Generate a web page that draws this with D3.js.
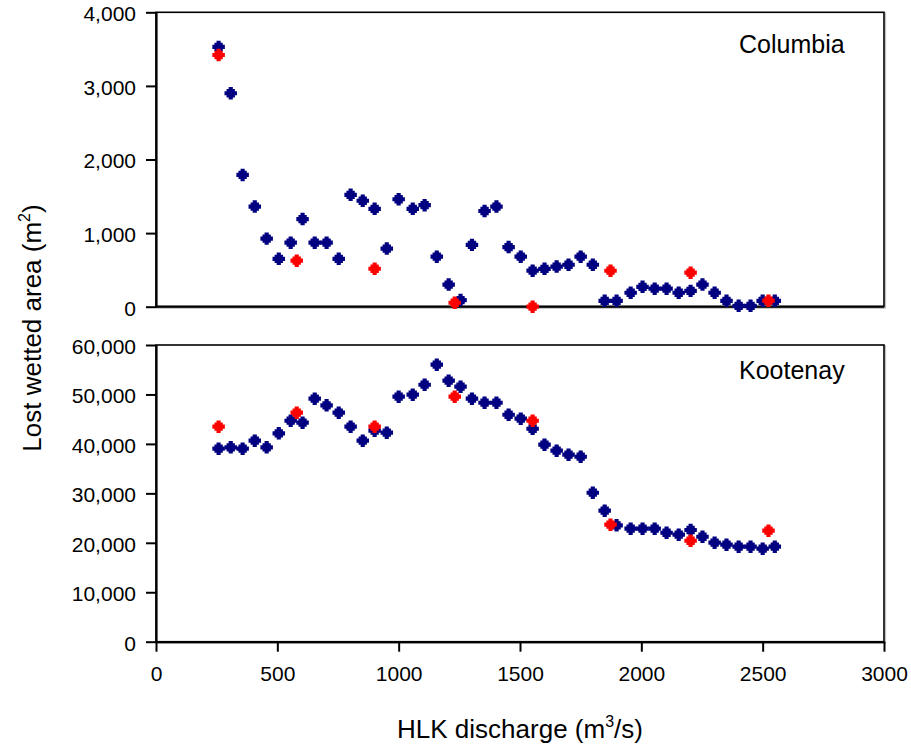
<!DOCTYPE html>
<html>
<head>
<meta charset="utf-8">
<script src="https://cdn.jsdelivr.net/npm/d3@7"></script>
<style>
  html, body { margin: 0; padding: 0; background: #fff; }
  svg { display: block; font-family: "Liberation Sans", Arial, sans-serif; }
</style>
</head>
<body>
<svg id="chart" width="911" height="746"></svg>
<script>
// ---- data ----
const dischargeModel = [258,308,357,407,456,506,555,604,654,703,753,802,852,901,951,1000,1058,1107,1157,1206,1255,1302,1354,1403,1453,1503,1552,1601,1651,1700,1750,1800,1849,1898,1956,2005,2055,2104,2154,2203,2252,2302,2351,2401,2450,2500,2550];
const columbiaModel = [3530,2900,1790,1360,925,650,870,1190,870,870,650,1520,1440,1330,790,1460,1330,1380,680,300,90,840,1300,1360,810,680,490,515,545,570,680,570,80,80,190,270,245,245,190,215,300,190,80,12,12,80,80];
const kootenayModel = [39030,39310,39030,40650,39310,42140,44690,44290,49140,47800,46310,43480,40650,42670,42270,49550,49950,51970,56020,52780,51570,49140,48330,48330,45900,45100,43070,39840,38630,37820,37410,30130,26490,23540,22850,22850,22850,22040,21640,22590,21230,20020,19620,19210,19210,18810,19210];
const dischargeObs = [258,580,901,1231,1552,1873,2203,2524];
const columbiaObs = [3420,625,516,54,0,489,462,82];
const kootenayObs = [43480,46310,43480,49550,44690,23660,20420,22450];
const xTicks = [0,500,1000,1500,2000,2500,3000];
const colTicks = [0,1000,2000,3000,4000];
const kooTicks = [0,10000,20000,30000,40000,50000,60000];
const panelNames = ["Columbia","Kootenay"];

const svg = d3.select("#chart");
const x = d3.scaleLinear().domain([0,3000]).range([156,884]);
const yTop = d3.scaleLinear().domain([0,4000]).range([306.7,12.3]);
const yBot = d3.scaleLinear().domain([0,60000]).range([641.7,345]);

// marker: stepped cross/octagon
const stepCross = {
  draw(ctx, size) {
    const s = Math.sqrt(size) / 12;
    const pts = [[-2,-6],[2,-6],[2,-4],[4,-4],[4,-2],[6,-2],[6,2],[4,2],[4,4],[2,4],[2,6],[-2,6],[-2,4],[-4,4],[-4,2],[-6,2],[-6,-2],[-4,-2],[-4,-4],[-2,-4]];
    ctx.moveTo(pts[0][0]*s, pts[0][1]*s);
    for (let i = 1; i < pts.length; i++) ctx.lineTo(pts[i][0]*s, pts[i][1]*s);
    ctx.closePath();
  }
};
const sym = d3.symbol().type(stepCross).size(156)();

function panel(y, ticks, modelVals, obsVals, name, labelY, showX) {
  const g = svg.append("g");
  const [r0, r1] = y.range();
  g.append("rect")
    .attr("x", x(0)).attr("y", r1)
    .attr("width", x(3000) - x(0)).attr("height", r0 - r1)
    .attr("fill", "none").attr("stroke", "#000").attr("stroke-width", 1.6);
  g.append("line").attr("x1", x(0)).attr("x2", x(3000)+1.5).attr("y1", r0+1.6).attr("y2", r0+1.6)
    .attr("stroke", "#bbb").attr("stroke-width", 1);
  g.append("line").attr("x1", x(3000)+1.6).attr("x2", x(3000)+1.6).attr("y1", r1).attr("y2", r0+1.6)
    .attr("stroke", "#bbb").attr("stroke-width", 1);

  const yAxis = d3.axisLeft(y).tickValues(ticks).tickSize(10).tickSizeOuter(0).tickPadding(10)
    .tickFormat(d3.format(","));
  const ya = g.append("g").attr("transform", `translate(${x(0)},0)`).call(yAxis);
  ya.select(".domain").attr("stroke-width", 2.2);
  ya.selectAll(".tick line").attr("stroke-width", 2);
  ya.selectAll("text").attr("font-size", 21).attr("fill", "#000").attr("font-family", "Liberation Sans, Arial, sans-serif").attr("dy", "0.4em");

  if (showX) {
    const xAxis = d3.axisBottom(x).tickValues(xTicks).tickSize(10).tickSizeOuter(0).tickPadding(14)
      .tickFormat(d3.format("d"));
    const xa = g.append("g").attr("transform", `translate(0,${r0})`).call(xAxis);
    xa.select(".domain").attr("stroke-width", 2.2);
    xa.selectAll(".tick line").attr("stroke-width", 2);
    xa.selectAll("text").attr("font-size", 21).attr("fill", "#000").attr("font-family", "Liberation Sans, Arial, sans-serif");
  } else {
    g.append("line").attr("x1", x(0)).attr("x2", x(3000)).attr("y1", r0).attr("y2", r0)
      .attr("stroke", "#000").attr("stroke-width", 2.2);
  }

  g.append("g").selectAll("path.model")
    .data(dischargeModel.map((d, i) => [d, modelVals[i]]))
    .join("path").attr("class", "model")
    .attr("d", sym)
    .attr("transform", d => `translate(${x(d[0])},${y(d[1])})`)
    .attr("fill", "#000080");
  g.append("g").selectAll("path.obs")
    .data(dischargeObs.map((d, i) => [d, obsVals[i]]))
    .join("path").attr("class", "obs")
    .attr("d", sym)
    .attr("transform", d => `translate(${x(d[0])},${y(d[1])})`)
    .attr("fill", "#ff0000");

  g.append("text").attr("x", 739).attr("y", labelY)
    .attr("font-size", 25).attr("fill", "#000").text(name);
}

panel(yTop, colTicks, columbiaModel, columbiaObs, panelNames[0], 53, false);
panel(yBot, kooTicks, kootenayModel, kootenayObs, panelNames[1], 379, true);

const yt = svg.append("text")
  .attr("transform", "translate(41,328) rotate(-90)")
  .attr("text-anchor", "middle").attr("font-size", 26).attr("fill", "#000");
yt.append("tspan").text("Lost wetted area (m");
yt.append("tspan").attr("font-size", 16).attr("dy", -11).text("2");
yt.append("tspan").attr("dy", 11).text(")");

const xt = svg.append("text")
  .attr("x", 520).attr("y", 738)
  .attr("text-anchor", "middle").attr("font-size", 26).attr("fill", "#000");
xt.append("tspan").text("HLK discharge (m");
xt.append("tspan").attr("font-size", 16).attr("dy", -11).text("3");
xt.append("tspan").attr("dy", 11).text("/s)");
</script>
</body>
</html>
